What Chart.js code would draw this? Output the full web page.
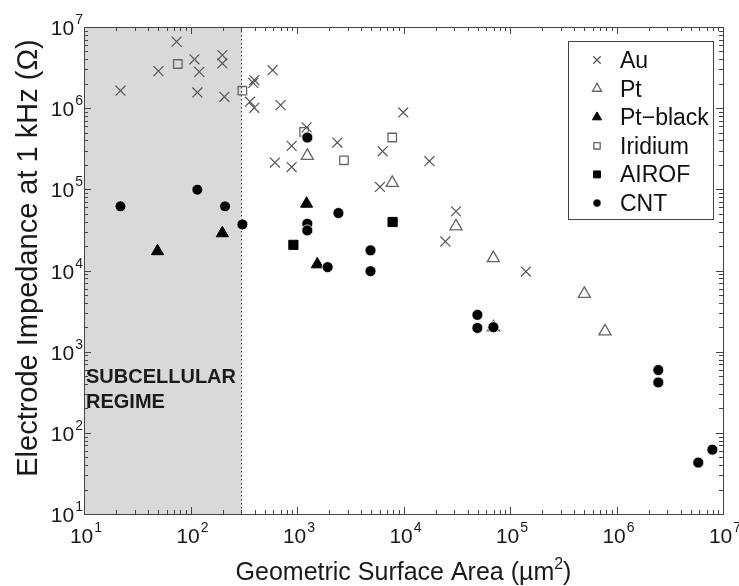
<!DOCTYPE html>
<html>
<head>
<meta charset="utf-8">
<script src="https://cdn.jsdelivr.net/npm/chart.js@4.4.1/dist/chart.umd.min.js"></script>
<style>
  body { margin: 0; background: #fff; }
  #wrap { width: 739px; height: 586px; }
</style>
</head>
<body>
<div id="wrap"><canvas id="impedanceChart" width="739" height="586"></canvas></div>
<script>
// Values (x: area in um^2, y: impedance in ohm)
const auArea = [22, 50, 74, 109, 121, 116, 199, 199, 208, 397, 389, 590, 362, 397, 702, 1230, 891, 621, 891, 2390, 6370, 9950, 17500, 6010, 31100, 24700, 141000];
const auImp = [1.64e6, 2.86e6, 6.6e6, 4.0e6, 2.8e6, 1.56e6, 4.5e6, 3.56e6, 1.38e6, 2.22e6, 2.05e6, 2.94e6, 1.2e6, 1.01e6, 1.09e6, 5.8e5, 3.43e5, 2.14e5, 1.88e5, 3.77e5, 2.94e5, 8.85e5, 2.22e5, 1.07e5, 5.35e4, 2.28e4, 9.7e3];

const ptArea = [1250, 7840, 31100, 69800, 70000, 499000, 780000];
const ptImp = [2.58e5, 1.2e5, 3.49e4, 1.42e4, 2000, 5150, 1780];

const ptBlackArea = [49, 199, 1230, 1550];
const ptBlackImp = [1.73e4, 2.88e4, 6.65e4, 1.19e4];

const iridiumArea = [76, 307, 1165, 2760, 7840];
const iridiumImp = [3.5e6, 1.64e6, 5.1e5, 2.28e5, 4.35e5];

const airofArea = [925, 7900];
const airofImp = [2.07e4, 3.96e4];

const cntArea = [22, 116, 211, 307, 1250, 1250, 1250, 2450, 1940, 4900, 4900, 49400, 49400, 69800, 2470000, 2470000, 5860000, 7950000];
const cntImp = [6.17e4, 9.9e4, 6.17e4, 3.7e4, 4.35e5, 3.77e4, 3.12e4, 5.1e4, 1.1e4, 1.77e4, 9.8e3, 2840, 1960, 2000, 593, 418, 43, 62];

// axis decades (exponents) and subcellular limit
const xDecades = [1, 2, 3, 4, 5, 6, 7];
const yDecades = [1, 2, 3, 4, 5, 6, 7];
const subcellularLimit = 300;

const FONT = '"Liberation Sans", Arial, Helvetica, sans-serif';

function toPoints(xs, ys) {
  return xs.map((x, i) => ({ x: x, y: ys[i] }));
}

// Shaded subcellular region + dotted boundary
const regionPlugin = {
  id: "regionPlugin",
  beforeDatasetsDraw(chart) {
    const { ctx, chartArea, scales } = chart;
    const xEnd = scales.x.getPixelForValue(subcellularLimit);
    ctx.save();
    ctx.fillStyle = "#d9d9d9";
    ctx.fillRect(chartArea.left, chartArea.top, xEnd - chartArea.left, chartArea.bottom - chartArea.top);
    ctx.strokeStyle = "#222";
    ctx.lineWidth = 1;
    ctx.setLineDash([1.5, 2.5]);
    ctx.beginPath();
    ctx.moveTo(Math.round(xEnd) + 0.5, chartArea.top);
    ctx.lineTo(Math.round(xEnd) + 0.5, chartArea.bottom);
    ctx.stroke();
    ctx.setLineDash([]);
    ctx.fillStyle = "#1a1a1a";
    ctx.font = "bold 20px " + FONT;
    ctx.textAlign = "left";
    ctx.textBaseline = "alphabetic";
    ctx.fillText("SUBCELLULAR", chartArea.left + 2, 383);
    ctx.fillText("REGIME", chartArea.left + 2, 408);
    ctx.restore();
  },
};

// "10" with a raised exponent; y is the baseline of "10"
function drawPower(ctx, exp, x, y, align) {
  ctx.font = "21px " + FONT;
  const wBase = ctx.measureText("10").width;
  ctx.font = "14px " + FONT;
  const wExp = ctx.measureText(String(exp)).width;
  const total = wBase + wExp + 1;
  let start = x - total / 2;
  if (align === "right") start = x - total;
  ctx.textAlign = "left";
  ctx.textBaseline = "alphabetic";
  ctx.font = "21px " + FONT;
  ctx.fillText("10", start, y);
  ctx.font = "14px " + FONT;
  ctx.fillText(String(exp), start + wBase + 1, y - 11);
}

// MATLAB-like box, inward ticks, labels and titles
const axesPlugin = {
  id: "axesPlugin",
  afterDatasetsDraw(chart) {
    const { ctx, chartArea, scales } = chart;
    const { left, right, top, bottom } = chartArea;
    ctx.save();
    ctx.strokeStyle = "#444";
    ctx.lineWidth = 1;

    // ticks
    ctx.beginPath();
    for (let e = 1; e <= 7; e++) {
      for (let m = 1; m <= 9; m++) {
        const v = m * Math.pow(10, e);
        if (v > 1e7) break;
        const len = m === 1 ? 7 : 4;
        const px = Math.round(scales.x.getPixelForValue(v)) + 0.5;
        ctx.moveTo(px, bottom);
        ctx.lineTo(px, bottom - len);
        ctx.moveTo(px, top);
        ctx.lineTo(px, top + len);
        const py = Math.round(scales.y.getPixelForValue(v)) + 0.5;
        ctx.moveTo(left, py);
        ctx.lineTo(left + len, py);
        ctx.moveTo(right, py);
        ctx.lineTo(right - len, py);
      }
    }
    ctx.stroke();

    // box
    ctx.strokeRect(Math.round(left) + 0.5, Math.round(top) + 0.5, Math.round(right - left), Math.round(bottom - top));

    // tick labels
    ctx.fillStyle = "#1a1a1a";
    xDecades.forEach(e => {
      drawPower(ctx, e, scales.x.getPixelForValue(Math.pow(10, e)) + 2, bottom + 29, "center");
    });
    yDecades.forEach(e => {
      drawPower(ctx, e, left - 1, scales.y.getPixelForValue(Math.pow(10, e)) + 8, "right");
    });

    // x title with superscript
    const xTitle = "Geometric Surface Area (\u00b5m";
    ctx.font = "25px " + FONT;
    const w1 = ctx.measureText(xTitle).width;
    const w3 = ctx.measureText(")").width;
    ctx.font = "16px " + FONT;
    const w2 = ctx.measureText("2").width;
    const sx = (left + right) / 2 - (w1 + w2 + w3) / 2;
    const ty = 580;
    ctx.textAlign = "left";
    ctx.textBaseline = "alphabetic";
    ctx.font = "25px " + FONT;
    ctx.fillText(xTitle, sx, ty);
    ctx.font = "16px " + FONT;
    ctx.fillText("2", sx + w1, ty - 11);
    ctx.font = "25px " + FONT;
    ctx.fillText(")", sx + w1 + w2, ty);

    // y title
    ctx.translate(37, 258);
    ctx.rotate(-Math.PI / 2);
    ctx.textAlign = "center";
    ctx.textBaseline = "alphabetic";
    ctx.font = "29px " + FONT;
    ctx.fillText("Electrode Impedance at 1 kHz (\u03a9)", 0, 0);
    ctx.restore();
  },
};

// Boxed legend inside the axes
const legendPlugin = {
  id: "legendPlugin",
  afterDraw(chart) {
    const { ctx } = chart;
    const bx = 568.5, by = 41.5, bw = 145, bh = 178;
    ctx.save();
    ctx.fillStyle = "#fff";
    ctx.fillRect(bx, by, bw, bh);
    ctx.strokeStyle = "#444";
    ctx.lineWidth = 1;
    ctx.strokeRect(bx, by, bw, bh);
    chart.data.datasets.forEach((ds, i) => {
      const y = 60 + i * 28.6;
      ctx.save();
      ctx.strokeStyle = ds.pointBorderColor;
      ctx.fillStyle = ds.pointBackgroundColor;
      ctx.lineWidth = ds.pointBorderWidth;
      Chart.helpers.drawPoint(ctx, {
        pointStyle: ds.pointStyle,
        radius: ds.pointRadius * 0.75,
        rotation: 0,
        borderWidth: ds.pointBorderWidth,
      }, 597, y);
      ctx.restore();
      ctx.fillStyle = "#111";
      ctx.font = "23px " + FONT;
      ctx.textAlign = "left";
      ctx.textBaseline = "alphabetic";
      ctx.fillText(ds.label, 620, y + 8);
    });
    ctx.restore();
  },
};

const ctx = document.getElementById("impedanceChart");
const impedanceChart = new Chart(ctx.getContext("2d"), {
  type: "scatter",
  data: {
    datasets: [
      {
        label: "Au",
        data: toPoints(auArea, auImp),
        pointStyle: "crossRot",
        pointRadius: 7,
        pointBorderWidth: 1.2,
        pointBorderColor: "#555",
        pointBackgroundColor: "rgba(0,0,0,0)",
        order: 3,
      },
      {
        label: "Pt",
        data: toPoints(ptArea, ptImp),
        pointStyle: "triangle",
        pointRadius: 7,
        pointBorderWidth: 1.3,
        pointBorderColor: "#666",
        pointBackgroundColor: "rgba(0,0,0,0)",
        order: 4,
      },
      {
        label: "Pt\u2212black",
        data: toPoints(ptBlackArea, ptBlackImp),
        pointStyle: "triangle",
        pointRadius: 7,
        pointBorderWidth: 1,
        pointBorderColor: "#000",
        pointBackgroundColor: "#000",
        order: 2,
      },
      {
        label: "Iridium",
        data: toPoints(iridiumArea, iridiumImp),
        pointStyle: "rect",
        pointRadius: 6,
        pointBorderWidth: 1.3,
        pointBorderColor: "#666",
        pointBackgroundColor: "rgba(0,0,0,0)",
        order: 5,
      },
      {
        label: "AIROF",
        data: toPoints(airofArea, airofImp),
        pointStyle: "rect",
        pointRadius: 6.5,
        pointBorderWidth: 1,
        pointBorderColor: "#000",
        pointBackgroundColor: "#000",
        order: 1,
      },
      {
        label: "CNT",
        data: toPoints(cntArea, cntImp),
        pointStyle: "circle",
        pointRadius: 5.5,
        pointBorderWidth: 0.8,
        pointBorderColor: "#fff",
        pointBackgroundColor: "#000",
        order: 0,
      },
    ],
  },
  options: {
    responsive: false,
    animation: false,
    events: [],
    layout: { padding: { top: 27, right: 16, left: 0, bottom: 0 } },
    plugins: {
      legend: { display: false },
      tooltip: { enabled: false },
    },
    scales: {
      x: {
        type: "logarithmic",
        min: 10,
        max: 1e7,
        ticks: { display: false },
        grid: { display: false },
        border: { display: false },
        afterFit: scale => { scale.height = 72; },
      },
      y: {
        type: "logarithmic",
        min: 10,
        max: 1e7,
        ticks: { display: false },
        grid: { display: false },
        border: { display: false },
        afterFit: scale => { scale.width = 84; },
      },
    },
  },
  plugins: [regionPlugin, axesPlugin, legendPlugin],
});
</script>
</body>
</html>
